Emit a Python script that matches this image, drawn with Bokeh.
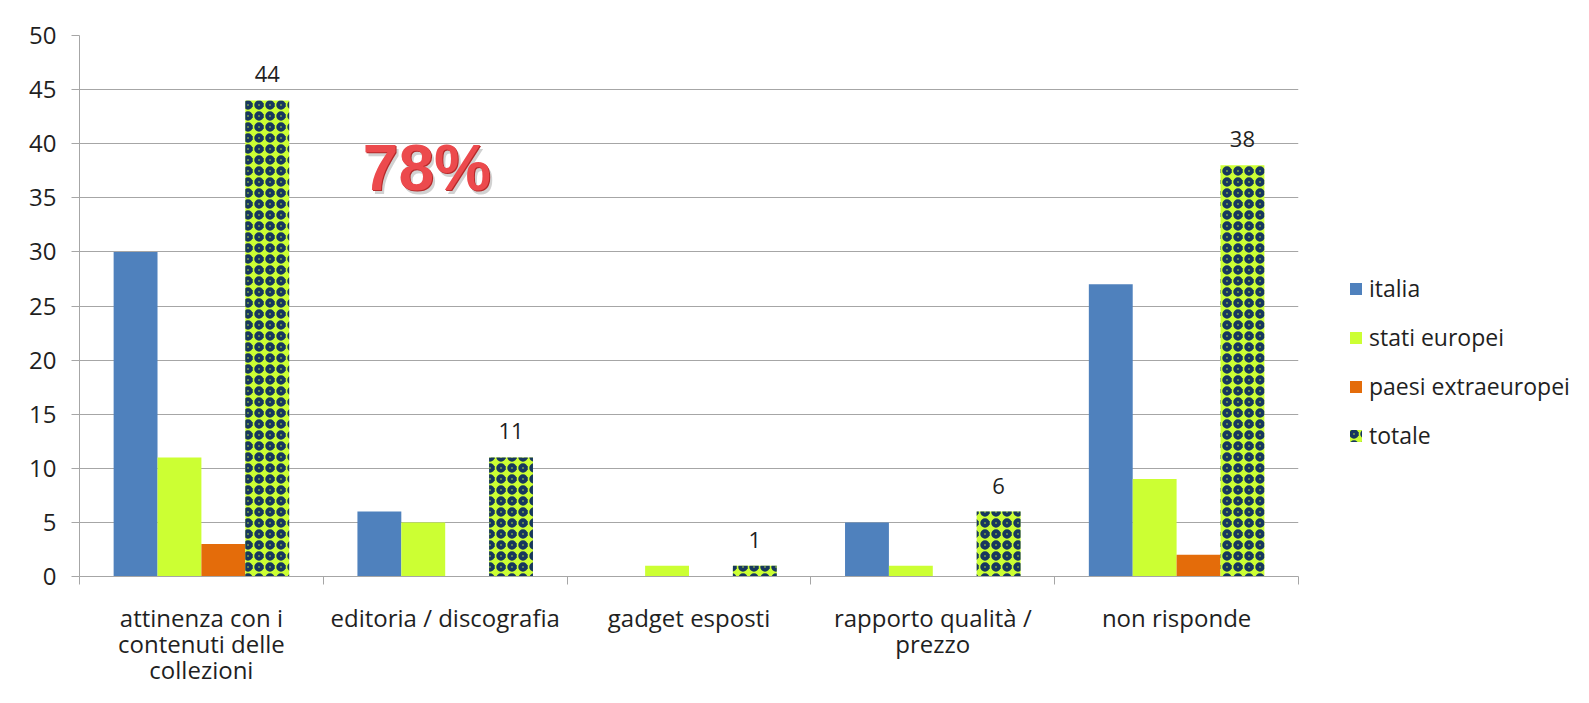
import numpy as np
from bokeh.plotting import figure
from bokeh.layouts import row, column
from bokeh.models import Range1d, FixedTicker, Legend, LegendItem, ColumnDataSource
from bokeh.core.properties import value
from bokeh.embed import file_html
from bokeh.resources import INLINE

categories = ["attinenza con i\ncontenuti delle\ncollezioni", "editoria / discografia",
              "gadget esposti", "rapporto qualità /\nprezzo", "non risponde"]
italia = [30, 6, 0, 5, 27]
stati_europei = [11, 5, 1, 1, 9]
paesi_extraeuropei = [3, 0, 0, 0, 2]
totale = [44, 11, 1, 6, 38]
series_names = ["italia", "stati europei", "paesi extraeuropei", "totale"]
y_ticks = list(range(0, 55, 5))
annotation = "78%"

FONT = "Open Sans"
FS = "24px"
TXT = "#1F1F1F"
GRID = "#A6A6A6"
colors = ["#4F81BD", "#CCFF33", "#E46C0A"]
TOT_FILL, TOT_HATCH = "#CCFF33", "#17375E"
hatch = dict(hatch_pattern="ring", hatch_color=TOT_HATCH, hatch_scale=11, hatch_weight=4)
centers = np.arange(len(categories)) + 0.5

W_MAIN, W_LEG = 1306, 267
H_MAIN, H_LAB = 602, 85

# ---------------- main chart ----------------
p = figure(width=W_MAIN, height=H_MAIN, output_backend="svg", toolbar_location=None,
           x_range=Range1d(0, len(categories)), y_range=Range1d(0, 50),
           min_border_left=79, min_border_top=35, min_border_bottom=26, min_border_right=8)
p.outline_line_color = None
p.background_fill_color = "white"
p.border_fill_color = "white"
p.xgrid.visible = False
p.ygrid.grid_line_color = GRID
p.ygrid.ticker = FixedTicker(ticks=y_ticks)

p.yaxis.ticker = FixedTicker(ticks=y_ticks)
p.yaxis.axis_line_color = GRID
p.yaxis.major_tick_line_color = GRID
p.yaxis.major_tick_out = 8
p.yaxis.major_tick_in = 0
p.yaxis.minor_tick_line_color = None
p.yaxis.major_label_standoff = 15
p.yaxis.major_label_text_font = FONT
p.yaxis.major_label_text_font_size = FS
p.yaxis.major_label_text_color = TXT

# x axis: ticks only at the category boundaries; category labels drawn below
bounds = list(range(len(categories) + 1))
p.xaxis.ticker = FixedTicker(ticks=bounds)
p.xaxis.major_label_overrides = {b: "" for b in bounds}
p.xaxis.major_label_text_font_size = "2px"
p.xaxis.major_label_text_color = None
p.xaxis.axis_line_color = GRID
p.xaxis.major_tick_line_color = GRID
p.xaxis.major_tick_out = 8
p.xaxis.major_tick_in = 0
p.xaxis.minor_tick_line_color = None
p.xaxis.major_label_standoff = 0

bw = 0.18
offs = [-0.27, -0.09, 0.09, 0.27]
series = [italia, stati_europei, paesi_extraeuropei]
for vals, off, col in zip(series, offs[:3], colors):
    src = ColumnDataSource(dict(x=centers + off, top=vals))
    p.vbar(x="x", top="top", width=bw, source=src, fill_color=col, line_color=None)

src_t = ColumnDataSource(dict(x=centers + offs[3], top=totale, lab=[str(v) for v in totale]))
p.vbar(x="x", top="top", width=bw, source=src_t, fill_color=TOT_FILL, line_color=None, **hatch)

p.text(x="x", y="top", text="lab", source=src_t, text_align="center", text_baseline="bottom",
       y_offset=-18, text_font=value(FONT), text_font_size="22px", text_color=TXT)

ann = ColumnDataSource(dict(x=[1.425], y=[37.8], t=[annotation]))
common = dict(x="x", y="y", text="t", source=ann, text_align="center", text_baseline="middle",
              text_font=value("Liberation Sans"), text_font_style="bold", text_font_size="64px")
p.text(x_offset=3, y_offset=4, text_color="#9A9A9A", text_alpha=0.45, **common)
p.text(x_offset=1, y_offset=1, text_color="#B52A2A", **common)
p.text(text_color="#EC4A4D", **common)

# ---------------- category labels ----------------
pl = figure(width=W_MAIN, height=H_LAB, output_backend="svg", toolbar_location=None,
            x_range=p.x_range, y_range=Range1d(0, 1),
            min_border_left=79, min_border_right=8, min_border_top=0, min_border_bottom=0)
pl.axis.visible = False
pl.grid.visible = False
pl.outline_line_color = None
src_c = ColumnDataSource(dict(x=centers, y=[1] * len(categories), t=categories))
pl.text(x="x", y="y", text="t", source=src_c, text_align="center", text_baseline="top",
        y_offset=-2, text_line_height=0.8, text_font=value(FONT), text_font_size=FS,
        text_color=TXT)

# ---------------- legend ----------------
pg = figure(width=W_LEG, height=H_MAIN + H_LAB, output_backend="svg", toolbar_location=None,
            x_range=Range1d(0, 1), y_range=Range1d(0, 1), min_border=0)
pg.axis.visible = False
pg.grid.visible = False
pg.outline_line_color = None
items = []
for name, col in zip(series_names[:3], colors):
    r = pg.vbar(x=[10], top=[1], width=0.1, fill_color=col, line_color=None)
    items.append(LegendItem(label=name, renderers=[r]))
r = pg.vbar(x=[10], top=[1], width=0.1, fill_color=TOT_FILL, line_color=None, **hatch)
items.append(LegendItem(label=series_names[3], renderers=[r]))
legend = Legend(items=items, location=(42, 236), orientation="vertical",
                border_line_color=None, background_fill_alpha=0, padding=0, margin=0,
                glyph_width=15, glyph_height=15, label_height=30, spacing=17,
                label_standoff=6, label_text_font=FONT, label_text_font_size="23px",
                label_text_color=TXT)
pg.add_layout(legend, "center")

layout = row(column(p, pl), pg)
open("out.html", "w").write(file_html(layout, INLINE))
